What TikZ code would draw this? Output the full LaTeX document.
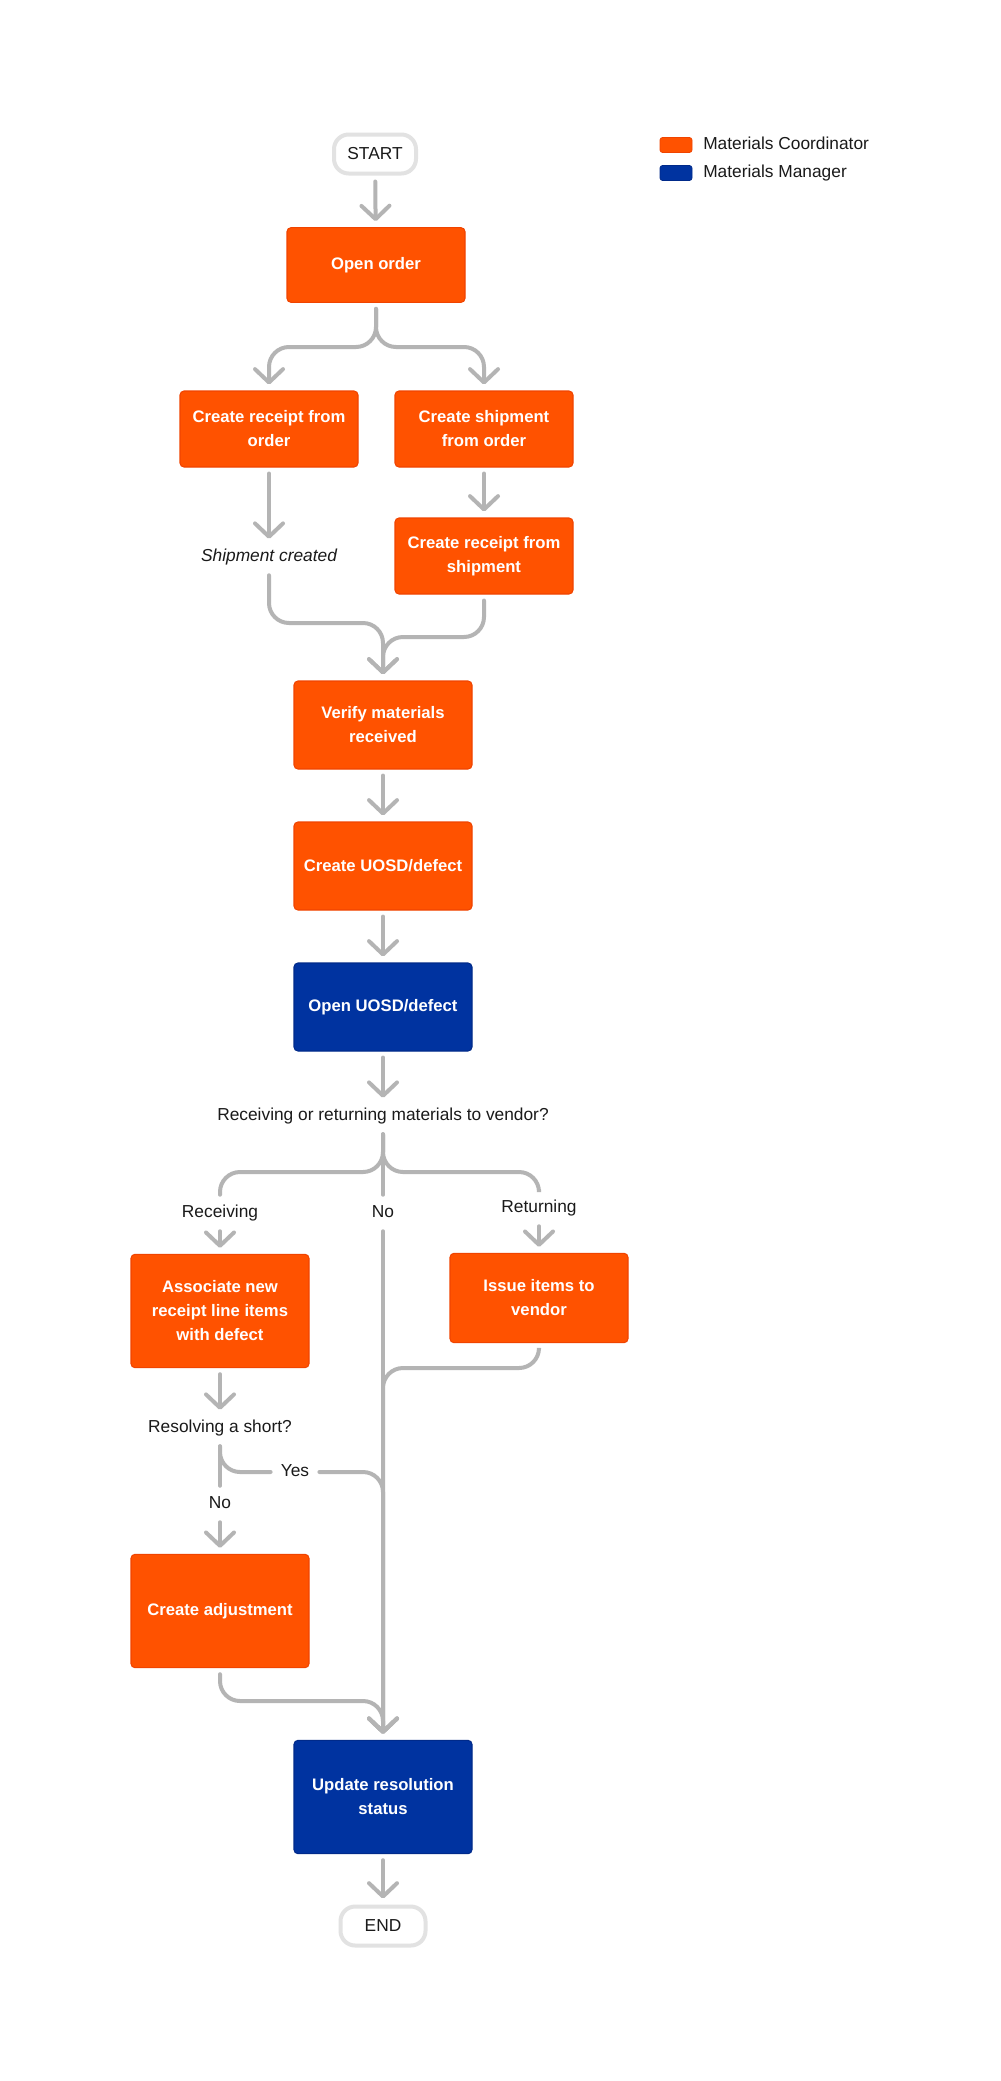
\documentclass[tikz,border=0pt]{standalone}
\usepackage{fontspec}
\setmainfont{Liberation Sans}
\usetikzlibrary{arrows.meta}
\definecolor{coord}{HTML}{FF5200}
\definecolor{coordline}{HTML}{F04400}
\definecolor{mgr}{HTML}{0033A0}
\definecolor{mgrline}{HTML}{002A8A}
\definecolor{flowgray}{HTML}{B4B4B4}
\definecolor{termline}{HTML}{E2E2E2}
\definecolor{ink}{HTML}{1A1A1A}

\begin{document}
\begin{tikzpicture}[x=0.75pt,y=-0.75pt]
 \tikzstyle{arrow} = [-{Straight Barb[length=10pt,width=21pt,line cap=round,line join=round]}];
 \tikzstyle{flow} = [draw=flowgray,line width=3pt,line cap=round,rounded corners=15pt,shorten <=4.5pt,shorten >=4.5pt];
 \tikzstyle{box} = [rectangle,rounded corners=3pt,line width=0.8pt,minimum width=133.5pt,inner sep=2pt,align=center,text=white,font=\fontsize{12.5}{18}\selectfont\bfseries];
 \tikzstyle{boxC} = [draw=coordline,fill=coord];
 \tikzstyle{boxM} = [draw=mgrline,fill=mgr];
 \tikzstyle{term} = [rectangle,rounded corners=11pt,draw=termline,fill=white,line width=3pt,minimum height=29.25pt,text=ink,font=\fontsize{13}{15}\selectfont];
 \tikzstyle{note} = [text=ink,inner sep=3pt,text height=9pt,text depth=3pt,font=\fontsize{13}{15}\selectfont];
 \tikzstyle{swatch} = [rectangle,rounded corners=2pt,minimum width=24pt,minimum height=11.25pt,inner sep=0pt];

 \useasboundingbox[fill=white] (0,0) rectangle (1000,2081);

 \node[swatch,fill=coord,draw=coordline,line width=0.6pt,name=lc] at (676,145) {};
 \node[swatch,fill=mgr,draw=mgrline,line width=0.6pt,name=lm] at (676,173) {};
 \node[note,anchor=west,name=lct] at (699,145) {Materials Coordinator};
 \node[note,anchor=west,name=lmt] at (699,173) {Materials Manager};

 \node[term,minimum width=61.5pt,name=start] at (375,154) {START};
 \node[box,boxC,minimum height=56pt,name=oo] at (376,265) {Open order};
 \node[box,boxC,minimum height=57pt,name=rfo] at (269,429) {Create receipt from\\order};
 \node[box,boxC,minimum height=57pt,name=sfo] at (484,429) {Create shipment\\from order};
 \node[note,font=\fontsize{13}{15}\selectfont\itshape,name=sc] at (269,557) {Shipment created};
 \node[box,boxC,minimum height=57pt,name=rfs] at (484,556) {Create receipt from\\shipment};
 \node[box,boxC,minimum height=66pt,name=vmr] at (383,725) {Verify materials\\received};
 \node[box,boxC,minimum height=66pt,name=cud] at (383,866) {Create UOSD/defect};
 \node[box,boxM,minimum height=66pt,name=oud] at (383,1007) {Open UOSD/defect};
 \node[note,name=q] at (383,1116) {Receiving or returning materials to vendor?};
 \node[note,name=recv] at (220,1213) {Receiving};
 \node[note,name=no1] at (383,1213) {No};
 \node[note,name=ret] at (539,1208) {Returning};
 \node[box,boxC,minimum height=85pt,name=assoc] at (220,1311) {Associate new\\receipt line items\\with defect};
 \node[box,boxC,minimum height=67pt,name=issue] at (539,1298) {Issue items to\\vendor};
 \node[note,name=rs] at (220,1428) {Resolving a short?};
 \node[note,name=yes] at (295,1472) {Yes};
 \node[note,name=no2] at (220,1504) {No};
 \node[box,boxC,minimum height=85pt,name=adj] at (220,1611) {Create adjustment};
 \node[box,boxM,minimum height=85pt,name=upd] at (383,1797) {Update resolution\\status};
 \node[term,minimum width=63.75pt,name=end] at (383,1926) {END};

 \draw[flow,arrow] (start) -- (oo);
 \draw[flow,arrow] (oo.south) |- (269,347) -- (rfo.north);
 \draw[flow,arrow] (oo.south) |- (484,347) -- (sfo.north);
 \draw[flow,arrow] (rfo) -- (sc);
 \draw[flow,arrow] (sfo) -- (rfs);
 \draw[flow,arrow] (sc.south) |- (383,623) -- (vmr.north);
 \draw[flow,arrow] (rfs.south) |- (383,637) -- (vmr.north);
 \draw[flow,arrow] (vmr) -- (cud);
 \draw[flow,arrow] (cud) -- (oud);
 \draw[flow,arrow] (oud) -- (q);
 \draw[flow] (q.south) |- (220,1172) -- (recv.north);
 \draw[flow] (q.south) |- (539,1172) -- (ret.north);
 \draw[flow] (q) -- (no1);
 \draw[flow,arrow] (recv) -- (assoc);
 \draw[flow,arrow] (ret) -- (issue);
 \draw[flow,arrow] (no1.south) -- (upd.north);
 \draw[flow,arrow] (issue.south) |- (383,1368) -- (upd.north);
 \draw[flow,arrow] (assoc) -- (rs);
 \draw[flow] (rs.south) |- (yes.west);
 \draw[flow,arrow] (yes.east) -| (upd.north);
 \draw[flow] (rs) -- (no2);
 \draw[flow,arrow] (no2) -- (adj);
 \draw[flow,arrow] (adj.south) |- (383,1701) -- (upd.north);
 \draw[flow,arrow] (upd) -- (end);
\end{tikzpicture}
\end{document}
